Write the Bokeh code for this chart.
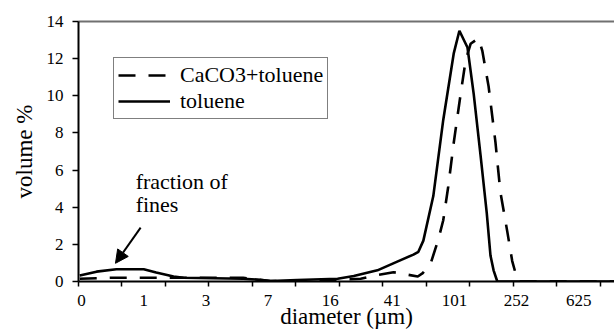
from bokeh.plotting import figure
from bokeh.models import FixedTicker, LinearAxis, Label, Arrow, NormalHead, Legend
from bokeh.embed import file_html
from bokeh.resources import INLINE

# category (size-bin) positions and tick labels of the diameter axis
label_bins = [0, 10, 20, 30, 40, 50, 60, 70, 80]
tick_labels = ["0", "1", "3", "7", "16", "41", "101", "252", "625"]
tick_mark_bins = [-0.5 + 7 * k for k in range(13)]

# toluene (solid)
tol_x = [-0.3, 2.4, 5.6, 10.0, 12.0, 14.8, 16.4, 26.0, 28.3, 30.4, 34.7, 41.2, 43.8,
         47.6, 50.8, 53.4, 54.2, 55.0, 56.6, 58.2, 59.9, 60.8, 62.1, 63.1, 64.2, 65.2,
         65.8, 66.3, 66.9, 85.8]
tol_y = [0.32, 0.53, 0.66, 0.66, 0.48, 0.27, 0.2, 0.15, 0.1, 0.02, 0.08, 0.15, 0.3,
         0.6, 1.07, 1.45, 1.6, 2.2, 4.6, 8.7, 12.3, 13.5, 12.6, 10.1, 6.8, 3.7,
         1.4, 0.6, 0.0, 0.0]

# CaCO3+toluene (dashed)
cac_x = [-0.3, 4.7, 26.0, 28.3, 30.4, 34.7, 41.2, 44.9, 47.6, 50.2, 52.4, 54.1, 54.9,
         56.2, 57.4, 58.2, 59.0, 59.9, 61.0, 61.8, 62.6, 63.9, 64.5, 65.5, 66.6, 67.4,
         68.5, 69.3, 70.2, 85.8]
cac_y = [0.15, 0.2, 0.2, 0.1, 0.02, 0.05, 0.1, 0.15, 0.35, 0.5, 0.37, 0.27, 0.45,
         1.0, 2.25, 3.3, 5.1, 7.5, 10.1, 11.9, 12.8, 13.1, 12.4, 10.5, 7.5, 4.8,
         2.7, 1.1, 0.0, 0.0]

FONT = "Liberation Serif"

p = figure(width=614, height=331, x_range=(-0.5, 85.76), y_range=(0, 14),
           output_backend="svg", toolbar_location=None,
           min_border_top=21, min_border_left=78, min_border_right=0, min_border_bottom=49)
p.xgrid.visible = False
p.ygrid.visible = False
p.outline_line_color = None
p.background_fill_color = "white"
p.border_fill_color = "white"

r1 = p.line(cac_x, cac_y, line_color="black", line_width=2.6, line_dash="17 13")
r2 = p.line(tol_x, tol_y, line_color="black", line_width=2.6)

# x axis
xa = p.xaxis[0]
xa.ticker = FixedTicker(ticks=label_bins, minor_ticks=tick_mark_bins)
xa.major_label_overrides = {b: t for b, t in zip(label_bins, tick_labels)}
xa.major_tick_line_color = None
xa.major_tick_out = 0
xa.major_tick_in = 0
xa.minor_tick_out = 5
xa.minor_tick_in = 0
xa.minor_tick_line_color = "black"
xa.minor_tick_line_width = 1.5
xa.major_label_standoff = 8
xa.major_label_text_font = FONT
xa.major_label_text_font_size = "17px"
xa.major_label_text_color = "black"
xa.axis_line_color = "black"
xa.axis_line_width = 2
xa.axis_label = "diameter (\u00b5m)"
xa.axis_label_text_font = FONT
xa.axis_label_text_font_size = "23px"
xa.axis_label_text_font_style = "normal"
xa.axis_label_text_color = "black"
xa.axis_label_standoff = -5

# y axis
ya = p.yaxis[0]
ya.ticker = FixedTicker(ticks=[0, 2, 4, 6, 8, 10, 12, 14])
ya.minor_tick_line_color = None
ya.major_tick_out = 6
ya.major_tick_in = 0
ya.major_tick_line_width = 1.5
ya.major_tick_line_color = "black"
ya.major_label_standoff = 9
ya.major_label_text_font = FONT
ya.major_label_text_font_size = "17px"
ya.major_label_text_color = "black"
ya.axis_line_color = "black"
ya.axis_line_width = 2
ya.axis_label = "volume %"
ya.axis_label_text_font = FONT
ya.axis_label_text_font_size = "23px"
ya.axis_label_text_font_style = "normal"
ya.axis_label_text_color = "black"
ya.axis_label_standoff = 7

# top border
top = LinearAxis(ticker=FixedTicker(ticks=[]), axis_line_color="#707070", axis_line_width=2,
                 major_tick_line_color=None, minor_tick_line_color=None,
                 major_label_text_font_size="0px")
p.add_layout(top, "above")

# annotation
p.add_layout(Label(x=8.7, y=5.37, text="fraction of", text_align="left",
                   text_baseline="alphabetic", text_font=FONT, text_font_size="22px",
                   text_color="black"))
p.add_layout(Label(x=8.7, y=4.13, text="fines", text_align="left",
                   text_baseline="alphabetic", text_font=FONT, text_font_size="22px",
                   text_color="black"))
p.add_layout(Arrow(x_start=9.5, y_start=2.9, x_end=5.45, y_end=0.98,
                   line_color="black", line_width=2,
                   end=NormalHead(size=13, fill_color="black", line_color="black")))

legend = Legend(items=[("CaCO3+toluene", [r1]), ("toluene", [r2])],
                location=(35, 162), label_text_font=FONT, label_text_font_size="22px",
                label_text_color="black", glyph_width=52, glyph_height=20, label_height=20,
                spacing=0, padding=4, label_standoff=10, border_line_color="black",
                border_line_width=1, background_fill_alpha=1, margin=0)
p.add_layout(legend, "center")

open("out.html", "w").write(file_html(p, INLINE))
